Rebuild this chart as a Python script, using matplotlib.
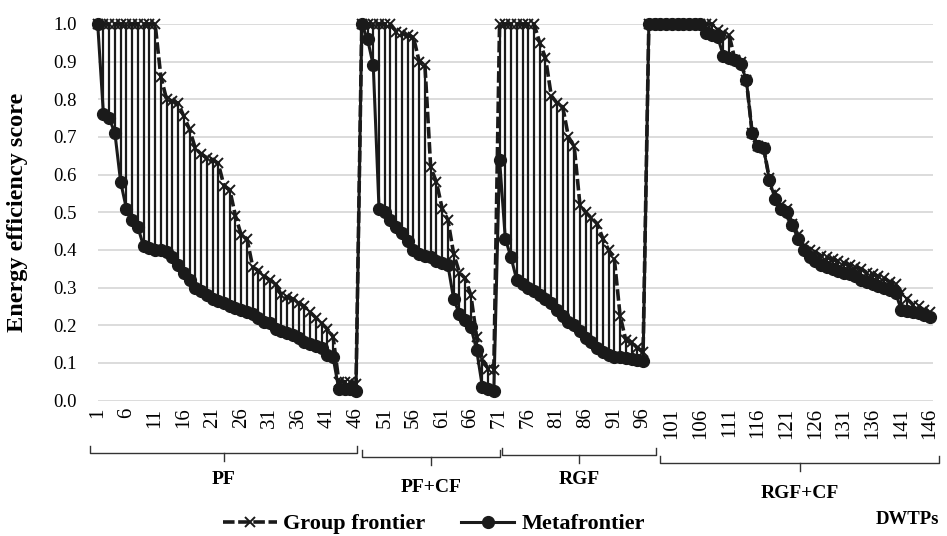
import matplotlib.pyplot as plt
import matplotlib.transforms as mtransforms
from matplotlib.lines import Line2D
import numpy as np

plt.rcParams['font.family'] = ['Liberation Serif', 'DejaVu Serif']

# DWTP index 1..146 (sorted within each group)
dwtp = np.arange(1, 147)

group_frontier = [
    # PF (1-46)
    1.00, 1.00, 1.00, 1.00, 1.00, 1.00, 1.00, 1.00, 1.00, 1.00, 1.00, 0.86, 0.80, 0.795, 0.79, 0.755,
    0.72, 0.67, 0.655, 0.645, 0.64, 0.63, 0.57, 0.56, 0.49, 0.44, 0.43, 0.355, 0.345, 0.33, 0.32,
    0.31, 0.28, 0.275, 0.27, 0.26, 0.25, 0.235, 0.22, 0.205, 0.19, 0.17, 0.05, 0.05, 0.05, 0.045,
    # PF+CF (47-70)
    1.00, 1.00, 1.00, 1.00, 1.00, 1.00, 0.98, 0.975, 0.97, 0.965, 0.90, 0.89, 0.62, 0.58, 0.51,
    0.48, 0.39, 0.34, 0.325, 0.28, 0.17, 0.11, 0.085, 0.08,
    # RGF (71-96)
    1.00, 1.00, 1.00, 1.00, 1.00, 1.00, 1.00, 0.95, 0.91, 0.81, 0.79, 0.78, 0.70, 0.675, 0.52,
    0.50, 0.485, 0.47, 0.43, 0.40, 0.375, 0.225, 0.16, 0.155, 0.14, 0.13,
    # RGF+CF (97-146)
    1.00, 1.00, 1.00, 1.00, 1.00, 1.00, 1.00, 1.00, 1.00, 1.00, 1.00, 1.00, 0.985, 0.975, 0.97,
    0.905, 0.90, 0.85, 0.71, 0.675, 0.67, 0.59, 0.55, 0.52, 0.51, 0.47, 0.44, 0.41, 0.40, 0.395,
    0.385, 0.38, 0.375, 0.37, 0.365, 0.36, 0.355, 0.35, 0.34, 0.335, 0.33, 0.325, 0.315, 0.31,
    0.285, 0.27, 0.255, 0.25, 0.24, 0.235,
]

metafrontier = [
    # PF (1-46)
    1.00, 0.76, 0.75, 0.71, 0.58, 0.51, 0.48, 0.46, 0.41, 0.405, 0.40, 0.40, 0.395, 0.38, 0.36,
    0.34, 0.32, 0.30, 0.29, 0.28, 0.27, 0.265, 0.26, 0.25, 0.245, 0.24, 0.235, 0.23, 0.22, 0.21,
    0.205, 0.19, 0.185, 0.18, 0.175, 0.165, 0.155, 0.15, 0.145, 0.14, 0.12, 0.115, 0.03, 0.03,
    0.03, 0.025,
    # PF+CF (47-70)
    1.00, 0.96, 0.89, 0.51, 0.50, 0.48, 0.46, 0.445, 0.425, 0.40, 0.39, 0.385, 0.38, 0.37, 0.365,
    0.36, 0.27, 0.23, 0.215, 0.195, 0.135, 0.037, 0.03, 0.025,
    # RGF (71-96)
    0.64, 0.43, 0.38, 0.32, 0.31, 0.30, 0.29, 0.28, 0.27, 0.26, 0.24, 0.225, 0.21, 0.20, 0.185,
    0.165, 0.155, 0.14, 0.13, 0.12, 0.117, 0.115, 0.113, 0.11, 0.108, 0.105,
    # RGF+CF (97-146)
    1.00, 1.00, 1.00, 1.00, 1.00, 1.00, 1.00, 1.00, 1.00, 1.00, 0.975, 0.97, 0.965, 0.915, 0.91,
    0.905, 0.895, 0.85, 0.71, 0.675, 0.67, 0.585, 0.535, 0.51, 0.50, 0.465, 0.43, 0.40, 0.38,
    0.37, 0.36, 0.355, 0.35, 0.345, 0.34, 0.335, 0.33, 0.32, 0.315, 0.31, 0.305, 0.30, 0.295,
    0.285, 0.24, 0.238, 0.235, 0.232, 0.228, 0.222,
]

group_names = ['PF', 'PF+CF', 'RGF', 'RGF+CF']
tick_values = list(range(1, 147, 5))
y_ticks = [0.0, 0.1, 0.2, 0.3, 0.4, 0.5, 0.6, 0.7, 0.8, 0.9, 1.0]

W, H = 947, 536
fig = plt.figure(figsize=(W / 100, H / 100), dpi=100)
ax = fig.add_axes([97.7 / W, 1 - 400.6 / H, (933 - 97.7) / W, 376.6 / H])

# high-low lines between the two frontiers
ax.vlines(dwtp, metafrontier, group_frontier, color='#1a1a1a', lw=1.6, zorder=2)

ax.plot(dwtp, group_frontier, color='#1a1a1a', lw=2.6, ls=(0, (3.2, 1.0)),
        marker='x', ms=7, mew=1.4, clip_on=False, zorder=3)
ax.plot(dwtp, metafrontier, color='#1a1a1a', lw=2.2, marker='o', ms=8.5,
        clip_on=False, zorder=4)

ax.set_xlim(1, 146.5)
ax.set_ylim(0, 1)
ax.set_yticks(y_ticks)
ax.set_yticklabels(['%.1f' % v for v in y_ticks], fontsize=13.5)
ax.set_xticks(tick_values)
ax.set_xticklabels([str(v) for v in tick_values], rotation=90, fontsize=15)
ax.tick_params(axis='y', length=0, pad=15)
ax.tick_params(axis='x', length=0, pad=5)
ax.grid(axis='y', color='#d9d9d9', lw=1.3)
ax.set_axisbelow(True)
for s in ax.spines.values():
    s.set_visible(False)

ax.set_ylabel('Energy efficiency score', fontsize=17.5, fontweight='bold')
ax.yaxis.set_label_coords((28 - 97.7) / (933 - 97.7), 0.5)

# group brackets under the axis (x in data units, y in pixels from top)
trans = mtransforms.blended_transform_factory(ax.transData, fig.transFigure)
brackets = [(-0.3, 46.2, 453, 479), (47.0, 71.0, 457, 487), (71.5, 98.3, 455, 479), (99.0, 147.6, 463, 494)]
for name, (x0, x1, yl, yt) in zip(group_names, brackets):
    ys = [1 - (yl - 7) / H, 1 - yl / H, 1 - yl / H, 1 - (yl - 7) / H]
    ax.plot([x0, x0, x1, x1], ys, transform=trans, color='#333333', lw=1.0, clip_on=False)
    xm = (x0 + x1) / 2
    ax.plot([xm, xm], [1 - yl / H, 1 - (yl + 8) / H], transform=trans, color='#333333',
            lw=1.0, clip_on=False)
    ax.text(xm, 1 - yt / H, name, transform=trans, ha='center', va='center',
            fontsize=14, fontweight='bold')

fig.text(907 / W, 1 - 519 / H, 'DWTPs', ha='center', va='center', fontsize=13.5, fontweight='bold')

handles = [
    Line2D([], [], color='#1a1a1a', lw=2.6, ls=(0, (3.2, 1.0)), marker='x', ms=7, mew=1.4),
    Line2D([], [], color='#1a1a1a', lw=2.2, marker='o', ms=8.5),
]
fig.legend(handles, ['Group frontier', 'Metafrontier'], loc='center', ncol=2,
           bbox_to_anchor=(434 / W, 1 - 524 / H), frameon=False, handlelength=2.4,
           handletextpad=0.3, columnspacing=1.6, prop={'weight': 'bold', 'size': 16})

fig.savefig('out.png', dpi=100)
